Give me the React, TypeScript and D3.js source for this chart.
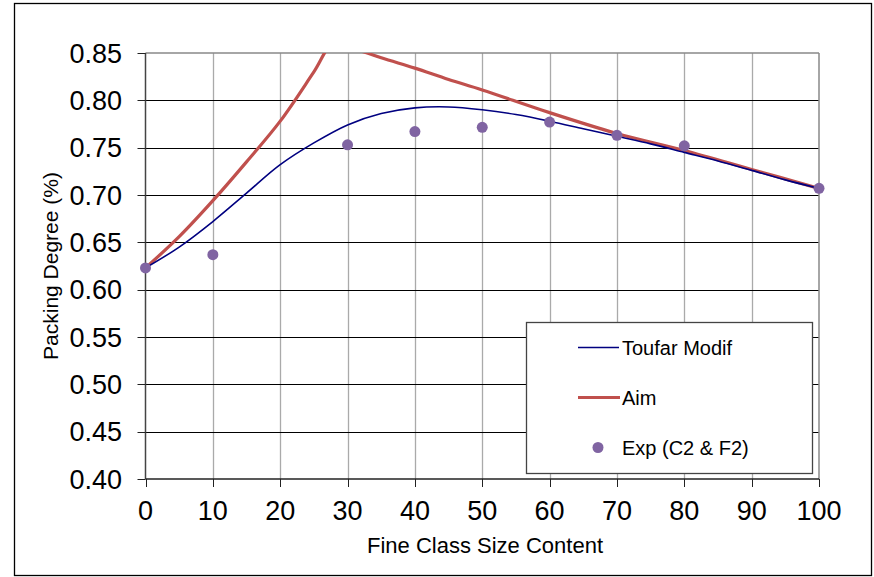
import React from "react";
import * as d3 from "d3";

const xTicks = [0, 10, 20, 30, 40, 50, 60, 70, 80, 90, 100];
const yTicks = [0.4, 0.45, 0.5, 0.55, 0.6, 0.65, 0.7, 0.75, 0.8, 0.85];

const toufarX = [0, 5, 10, 15, 20, 25, 30, 35, 40, 45, 50, 55, 60, 65, 70, 75, 80, 85, 90, 95, 100];
const toufarY = [0.623, 0.645, 0.672, 0.702, 0.732, 0.755, 0.774, 0.786, 0.792, 0.793, 0.79, 0.785, 0.778, 0.77, 0.762, 0.754, 0.745, 0.736, 0.726, 0.716, 0.707];

const aimX = [0, 5, 10, 15, 20, 25, 28, 30, 35, 40, 45, 50, 60, 70, 80, 90, 100];
const aimY = [0.623, 0.656, 0.694, 0.735, 0.778, 0.83, 0.862, 0.857, 0.845, 0.834, 0.822, 0.811, 0.787, 0.765, 0.747, 0.727, 0.707];

const expX = [0, 10, 30, 40, 50, 60, 70, 80, 100];
const expY = [0.623, 0.637, 0.753, 0.767, 0.7715, 0.777, 0.763, 0.752, 0.707];

const seriesNames = ["Toufar Modif", "Aim", "Exp (C2 & F2)"];
const xTitle = "Fine Class Size Content";
const yTitle = "Packing Degree (%)";

const BLUE = "#000080";
const RED = "#C0504D";
const PURPLE = "#8064A2";
const FONT = "'Liberation Sans', Arial, sans-serif";

export default function App() {
  const W = 874, H = 577;
  const L = 145.5, R = 819, T = 53, B = 479;
  const x = d3.scaleLinear().domain([0, 100]).range([L, R]);
  const y = d3.scaleLinear().domain([0.4, 0.85]).range([B, T]);
  const snap = (v: number) => Math.round(v) + 0.5;

  const smooth = d3
    .line<[number, number]>()
    .x((d) => x(d[0]))
    .y((d) => y(d[1]))
    .curve(d3.curveCatmullRom.alpha(0.5));

  const toufar: [number, number][] = toufarX.map((v, i) => [v, toufarY[i]]);
  const aim: [number, number][] = aimX.map((v, i) => [v, aimY[i]]);

  return (
    <svg
      width={W}
      height={H}
      style={{ position: "absolute", left: 0, top: 0, background: "#fff" }}
      fontFamily={FONT}
    >
      <rect x={0} y={0} width={W} height={H} fill="#fff" />
      <rect x={14.5} y={3.5} width={857} height={572} fill="none" stroke="#000" strokeWidth={1.3} />
      <defs>
        <clipPath id="plotclip">
          <rect x={L} y={T} width={R - L} height={B - T} />
        </clipPath>
      </defs>
      {xTicks.slice(1, -1).map((t) => (
        <line key={"vx" + t} x1={snap(x(t))} x2={snap(x(t))} y1={T} y2={B} stroke="#aaa" strokeWidth={1.3} />
      ))}
      {yTicks.slice(1, -1).map((t) => (
        <line key={"hy" + t} x1={L} x2={R} y1={snap(y(t))} y2={snap(y(t))} stroke="#000" strokeWidth={1} />
      ))}
      <line x1={L} x2={R} y1={T} y2={T} stroke="#888" strokeWidth={1.5} />
      <line x1={R} x2={R} y1={T} y2={B} stroke="#888" strokeWidth={1.5} />
      <line x1={L} x2={L} y1={T} y2={B} stroke="#444" strokeWidth={1.5} />
      <line x1={L} x2={R} y1={B} y2={B} stroke="#222" strokeWidth={1.3} />
      {yTicks.map((t) => (
        <g key={"yt" + t}>
          <line x1={L - 8} x2={L} y1={snap(y(t))} y2={snap(y(t))} stroke="#222" strokeWidth={1} />
          <text x={122} y={y(t)} dy="0.36em" textAnchor="end" fontSize={27} fill="#000">
            {t.toFixed(2)}
          </text>
        </g>
      ))}
      {xTicks.map((t) => (
        <g key={"xt" + t}>
          <line x1={snap(x(t))} x2={snap(x(t))} y1={B} y2={B + 8} stroke="#222" strokeWidth={1} />
          <text x={x(t)} y={520} textAnchor="middle" fontSize={27} fill="#000">
            {t}
          </text>
        </g>
      ))}
      <text x={485} y={553} textAnchor="middle" fontSize={22} fill="#000">
        {xTitle}
      </text>
      <text
        transform={`translate(58,${266}) rotate(-90)`}
        textAnchor="middle"
        fontSize={21}
        fill="#000"
      >
        {yTitle}
      </text>

      <g clipPath="url(#plotclip)">
        <path d={smooth(aim) || ""} fill="none" stroke={RED} strokeWidth={3.2} strokeLinejoin="round" />
        <path d={smooth(toufar) || ""} fill="none" stroke={BLUE} strokeWidth={1.6} />
      </g>
      {expX.map((v, i) => (
        <circle key={"e" + i} cx={x(v)} cy={y(expY[i])} r={5.5} fill={PURPLE} />
      ))}

      <rect x={526.5} y={322.5} width={286} height={151} fill="#fff" stroke="#444" strokeWidth={1.3} />
      <line x1={578} x2={619} y1={347.5} y2={347.5} stroke={BLUE} strokeWidth={1.6} />
      <text x={622} y={355} fontSize={20} fill="#000">{seriesNames[0]}</text>
      <line x1={578} x2={620} y1={397.5} y2={397.5} stroke={RED} strokeWidth={3.2} />
      <text x={622} y={405} fontSize={20} fill="#000">{seriesNames[1]}</text>
      <circle cx={598} cy={447.5} r={5.5} fill={PURPLE} />
      <text x={622} y={455} fontSize={20} fill="#000">{seriesNames[2]}</text>
    </svg>
  );
}
